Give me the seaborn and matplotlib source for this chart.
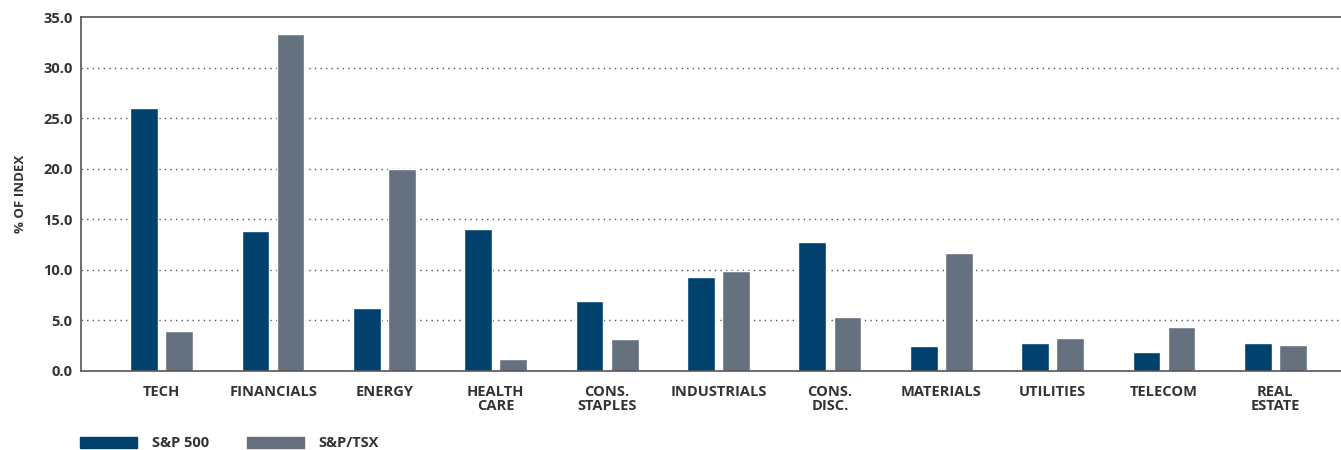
import matplotlib
matplotlib.use("Agg")
import matplotlib.pyplot as plt
import matplotlib.patches as mpatches
import seaborn as sns
import pandas as pd

categories = ["TECH", "FINANCIALS", "ENERGY", "HEALTH\nCARE", "CONS.\nSTAPLES",
              "INDUSTRIALS", "CONS.\nDISC.", "MATERIALS", "UTILITIES", "TELECOM", "REAL\nESTATE"]
sp500 = [26.0, 13.8, 6.2, 14.0, 6.9, 9.3, 12.8, 2.5, 2.8, 1.9, 2.8]
tsx = [4.0, 33.3, 20.0, 1.2, 3.2, 9.9, 5.3, 11.7, 3.3, 4.3, 2.6]
series_names = ["S&P 500", "S&P/TSX"]
colors = ["#00416E", "#66717F"]

df = pd.DataFrame({
    "sector": categories * 2,
    "value": sp500 + tsx,
    "index": [series_names[0]] * len(categories) + [series_names[1]] * len(categories),
})

sns.set_theme(style="white")
plt.rcParams["font.family"] = ["Open Sans", "DejaVu Sans"]
text_color = "#333333"

fig = plt.figure(figsize=(13.41, 4.5), dpi=100)
ax = fig.add_axes([0.0604, 0.1756, 0.9396, 0.7866])

sns.barplot(data=df, x="sector", y="value", hue="index", palette=colors,
            order=categories, hue_order=series_names, width=0.63, gap=0.21,
            saturation=1, legend=False, ax=ax, errorbar=None)

ax.set_xlim(-0.725, 10.59)
ax.set_ylim(0, 35)
ax.set_yticks([0, 5, 10, 15, 20, 25, 30, 35])
ax.set_yticklabels([f"{v:.1f}" for v in [0, 5, 10, 15, 20, 25, 30, 35]],
                   fontsize=10.5, fontweight="bold", color=text_color)
ax.set_xticks(range(len(categories)))
ax.set_xticklabels(categories, fontsize=10.5, fontweight="bold", color=text_color,
                   linespacing=1.05, va="top")
ax.tick_params(axis="x", length=0, pad=10)
ax.tick_params(axis="y", length=0, pad=6)
ax.set_xlabel("")
ax.set_ylabel("% OF INDEX", fontsize=9.5, fontweight="bold", color=text_color, labelpad=12)

for y in [5, 10, 15, 20, 25, 30]:
    ax.axhline(y, color="#555555", linestyle=(0, (1, 3)), linewidth=1.0, zorder=0)
ax.set_axisbelow(True)

for side in ["left", "top", "bottom"]:
    ax.spines[side].set_visible(True)
    ax.spines[side].set_color("#555555")
    ax.spines[side].set_linewidth(1.2)
ax.spines["right"].set_visible(False)

handles = [mpatches.Patch(color=c, label=n) for c, n in zip(colors, series_names)]
leg = fig.legend(handles=handles, loc="lower left", bbox_to_anchor=(0.05, -0.03),
                 ncol=2, frameon=False, handlelength=3.9, handleheight=0.8,
                 handletextpad=1.0, columnspacing=2.6,
                 prop={"size": 10.5, "weight": "bold"})
for t in leg.get_texts():
    t.set_color(text_color)

fig.savefig("out.png", dpi=100)
